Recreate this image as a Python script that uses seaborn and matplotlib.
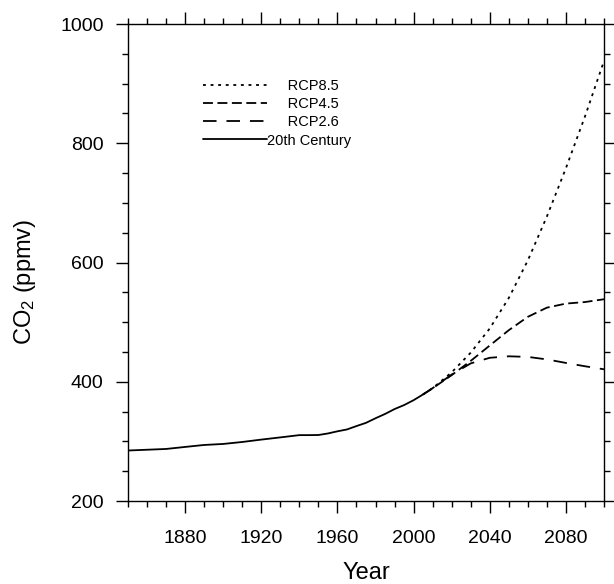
import numpy as np
import pandas as pd
import matplotlib
matplotlib.use("Agg")
import matplotlib.pyplot as plt
import seaborn as sns

# CO2 concentrations (ppmv)
years_hist = [1850, 1860, 1870, 1880, 1890, 1900, 1910, 1920, 1930, 1940, 1945,
              1950, 1955, 1960, 1965, 1970, 1975, 1980, 1985, 1990, 1995, 2000, 2005]
co2_hist = [284.7, 286.0, 287.3, 290.7, 294.0, 295.7, 299.0, 303.0, 306.7, 310.5, 310.5,
            310.7, 313.3, 316.9, 320.0, 325.7, 331.1, 338.8, 346.0, 354.2, 360.9, 369.1, 378.8]

years_rcp = [2005, 2010, 2020, 2030, 2040, 2050, 2060, 2070, 2080, 2090, 2100]
co2_rcp85 = [378.8, 389.3, 415.8, 448.8, 489.4, 540.5, 603.5, 677.1, 758.2, 844.8, 938.0]
co2_rcp45 = [378.8, 389.1, 411.1, 435.0, 460.8, 486.5, 508.9, 524.3, 531.1, 533.7, 538.4]
co2_rcp26 = [378.8, 389.3, 412.1, 430.8, 440.2, 442.7, 441.7, 437.5, 431.6, 426.0, 420.9]

sns.set_style("ticks")
plt.rcParams['font.family'] = ['Liberation Sans', 'DejaVu Sans']
plt.rcParams['mathtext.default'] = 'regular'
plt.rcParams['text.color'] = 'black'
plt.rcParams['axes.labelcolor'] = 'black'

fig = plt.figure(figsize=(6.14, 5.84), dpi=100)
ax = fig.add_axes([0.2085, 0.1421, 0.7752, 0.8168])

lw = 1.3
sns.lineplot(x=years_rcp, y=co2_rcp85, ax=ax, color='black', lw=lw,
             linestyle=(0, (1.6, 2.6)), label='     RCP8.5')
sns.lineplot(x=years_rcp, y=co2_rcp45, ax=ax, color='black', lw=lw,
             linestyle=(0, (5.5, 2.5)), label='     RCP4.5')
sns.lineplot(x=years_rcp, y=co2_rcp26, ax=ax, color='black', lw=lw,
             linestyle=(0, (7.5, 5.5)), label='     RCP2.6')
sns.lineplot(x=years_hist, y=co2_hist, ax=ax, color='black', lw=lw,
             linestyle='-', label='20th Century')

ax.set_xlim(1850, 2100)
ax.set_ylim(200, 1000)
ax.set_xticks(np.arange(1880, 2100, 40))
ax.set_xticks(np.arange(1850, 2101, 10), minor=True)
ax.set_yticks(np.arange(200, 1001, 200))
ax.set_yticks(np.arange(200, 1001, 50), minor=True)

for s in ax.spines.values():
    s.set_visible(True)
    s.set_linewidth(1.0)
    s.set_color('black')

ax.tick_params(which='both', direction='out', top=True, right=True,
               labeltop=False, labelright=False, width=1.0, color='black',
               labelcolor='black')
ax.tick_params(which='major', length=8.6, labelsize=14, pad=9)
ax.tick_params(which='minor', length=4.5)
ax.tick_params(axis='x', which='major', pad=12)

ax.set_xlabel('Year', fontsize=17)
ax.set_ylabel('CO$_2$ (ppmv)', fontsize=17)
ax.xaxis.set_label_coords(0.5, -0.127)
ax.yaxis.set_label_coords(-0.19, 0.46)

leg = ax.legend(loc='upper left', bbox_to_anchor=(0.1576, 0.885), frameon=False,
                fontsize=10.5, handlelength=4.4, handletextpad=0.0,
                borderpad=0, borderaxespad=0, labelspacing=0.29)

fig.savefig('out.png', dpi=100)
